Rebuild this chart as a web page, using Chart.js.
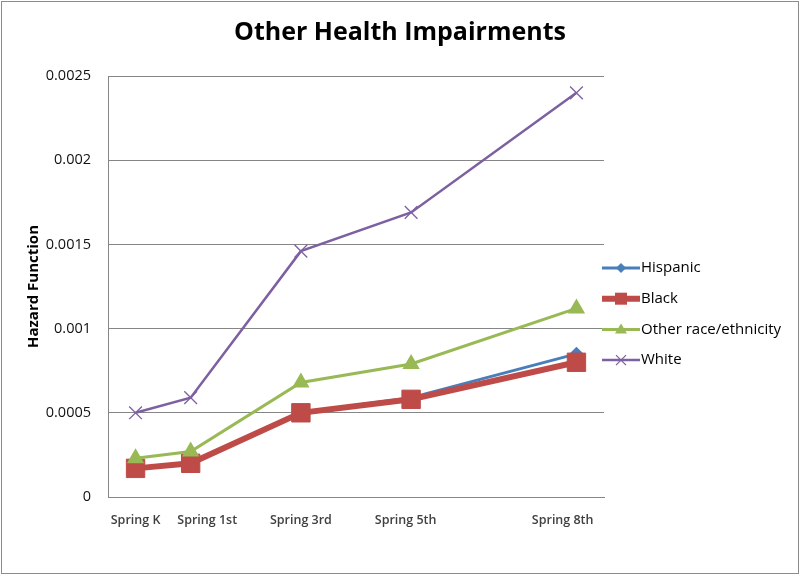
<!DOCTYPE html>
<html>
<head>
<meta charset="utf-8">
<script src="https://cdn.jsdelivr.net/npm/chart.js@4/dist/chart.umd.min.js"></script>
<style>
  html, body { margin: 0; padding: 0; background: #fff; }
  #wrap { width: 800px; height: 576px; }
</style>
</head>
<body>
<div id="wrap"><canvas id="chart" width="800" height="576"></canvas></div>
<script>
// ================= DATA =================
const gradeX = [0, 1, 3, 5, 8];
// where the category labels sit under the axis (shifted a little, as in the original)
const gradeLabelX = [0, 1.3, 3, 4.9, 7.75];
const gradeLabels = ["Spring K", "Spring 1st", "Spring 3rd", "Spring 5th", "Spring 8th"];

const hispanic = [0.00017, 0.00020, 0.00050, 0.00059, 0.00085];
const black    = [0.00017, 0.00020, 0.00050, 0.00058, 0.00080];
const other    = [0.00023, 0.00027, 0.00068, 0.00079, 0.00112];
const white    = [0.00050, 0.00059, 0.00146, 0.00169, 0.00240];

const yMin = 0, yMax = 0.0025, yStep = 0.0005;
const xMin = -0.5, xMax = 8.5;

const chartTitle = "Other Health Impairments";
const FONT = "'Open Sans', sans-serif";

function points(values) {
    return gradeX.map((x, i) => ({ x: x, y: values[i] }));
}

// ================= PLUGINS =================
// white background, outer border and the title centred on the whole canvas
const frame = {
    id: "frame",
    beforeDraw(chart) {
        const ctx = chart.ctx;
        ctx.save();
        ctx.fillStyle = "#fff";
        ctx.fillRect(0, 0, chart.width, chart.height);
        ctx.strokeStyle = "#8c8c8c";
        ctx.lineWidth = 1;
        ctx.strokeRect(1.5, 1.5, chart.width - 3, chart.height - 4);
        ctx.fillStyle = "#000";
        ctx.font = "bold 25px " + FONT;
        ctx.textAlign = "center";
        ctx.textBaseline = "middle";
        ctx.fillText(chartTitle, chart.width / 2, 33);
        ctx.restore();
    }
};

function drawMarker(ctx, style, x, y, r) {
    ctx.beginPath();
    if (style === "diamond") {
        ctx.moveTo(x, y - r); ctx.lineTo(x + r, y); ctx.lineTo(x, y + r); ctx.lineTo(x - r, y);
        ctx.closePath(); ctx.fill();
    } else if (style === "square") {
        ctx.rect(x - r, y - r, 2 * r, 2 * r); ctx.fill();
    } else if (style === "triangle") {
        ctx.moveTo(x, y - r); ctx.lineTo(x + r, y + r * 0.7); ctx.lineTo(x - r, y + r * 0.7);
        ctx.closePath(); ctx.fill();
    } else if (style === "x") {
        ctx.lineWidth = 1.3;
        ctx.moveTo(x - r, y - r); ctx.lineTo(x + r, y + r);
        ctx.moveTo(x + r, y - r); ctx.lineTo(x - r, y + r);
        ctx.stroke();
    }
}

const sideLegend = {
    id: "sideLegend",
    afterDraw(chart) {
        const ctx = chart.ctx;
        const items = [
            { label: "Hispanic", color: "#4a7ebb", width: 3, marker: "diamond", r: 5 },
            { label: "Black", color: "#be4b48", width: 6, marker: "square", r: 6 },
            { label: "Other race/ethnicity", color: "#98b954", width: 3, marker: "triangle", r: 6 },
            { label: "White", color: "#7d60a0", width: 2.5, marker: "x", r: 5 }
        ];
        ctx.save();
        items.forEach((it, i) => {
            const y = 268 + i * 30.7;
            ctx.strokeStyle = it.color;
            ctx.fillStyle = it.color;
            ctx.lineWidth = it.width;
            ctx.beginPath();
            ctx.moveTo(602, y); ctx.lineTo(640, y);
            ctx.stroke();
            drawMarker(ctx, it.marker, 621, y, it.r);
            ctx.fillStyle = "#000";
            ctx.font = "15px " + FONT;
            ctx.textAlign = "left";
            ctx.textBaseline = "middle";
            ctx.fillText(it.label, 641, y);
        });
        ctx.restore();
    }
};

// ================= CHART =================
new Chart(document.getElementById("chart"), {
    type: "line",
    data: {
        datasets: [
            {
                label: "Hispanic",
                data: points(hispanic),
                borderColor: "#4a7ebb",
                backgroundColor: "#4a7ebb",
                borderWidth: 3,
                pointStyle: "rectRot",
                pointRadius: 5,
                order: 4
            },
            {
                label: "Black",
                data: points(black),
                borderColor: "#be4b48",
                backgroundColor: "#be4b48",
                borderWidth: 6,
                pointStyle: "rect",
                pointRadius: 13,
                pointBorderWidth: 1,
                order: 3
            },
            {
                label: "Other race/ethnicity",
                data: points(other),
                borderColor: "#98b954",
                backgroundColor: "#98b954",
                borderWidth: 3,
                pointStyle: "triangle",
                pointRadius: 7,
                order: 2
            },
            {
                label: "White",
                data: points(white),
                borderColor: "#7d60a0",
                backgroundColor: "#7d60a0",
                borderWidth: 2.5,
                pointStyle: "crossRot",
                pointRadius: 9,
                pointBorderWidth: 1.3,
                order: 1
            }
        ]
    },
    options: {
        responsive: false,
        animation: false,
        events: [],
        layout: { padding: { left: 0, right: 196, top: 76, bottom: 0 } },
        plugins: {
            legend: { display: false },
            tooltip: { enabled: false },
            title: { display: false }
        },
        scales: {
            x: {
                type: "linear",
                min: xMin,
                max: xMax,
                afterBuildTicks: scale => {
                    scale.ticks = gradeLabelX.map(v => ({ value: v }));
                },
                afterFit: scale => { scale.height = 79; },
                ticks: {
                    autoSkip: false,
                    maxRotation: 0,
                    padding: 16,
                    color: "#404040",
                    font: { family: FONT, size: 12.5, weight: "600" },
                    callback: v => gradeLabels[gradeLabelX.indexOf(v)]
                },
                grid: { display: false, drawTicks: false },
                border: { display: true, color: "#868686", width: 1 }
            },
            y: {
                min: yMin,
                max: yMax,
                ticks: {
                    stepSize: yStep,
                    padding: 17,
                    color: "#111",
                    font: { family: FONT, size: 14.5 },
                    callback: v => String(+v.toFixed(4))
                },
                afterFit: scale => { scale.width = 108; },
                grid: { color: "#868686", lineWidth: 1, drawTicks: false },
                border: { display: true, color: "#868686", width: 1 },
                title: {
                    display: true,
                    text: "Hazard Function",
                    color: "#000",
                    font: { family: FONT, size: 15, weight: "bold" },
                    padding: { top: 25, bottom: 0 }
                }
            }
        }
    },
    plugins: [frame, sideLegend]
});
</script>
</body>
</html>
